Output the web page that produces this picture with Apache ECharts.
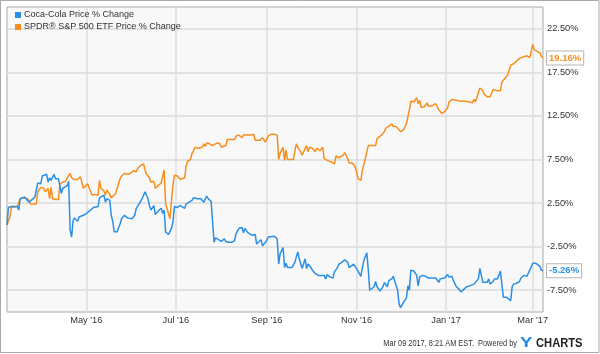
<!DOCTYPE html>
<html>
<head>
<meta charset="utf-8">
<script src="https://cdn.jsdelivr.net/npm/echarts@6/dist/echarts.min.js"></script>
<style>
html,body{margin:0;padding:0;background:#fff;}
#chart{width:600px;height:354px;}
</style>
</head>
<body>
<div id="chart"></div>
<script>
const seriesNames = ['Coca-Cola Price % Change', 'SPDR\u00ae S&P 500 ETF Price % Change'];
const seriesColors = ['#2b8fe6', '#f78f1e'];

const koDates = ['2016-03-08','2016-03-09','2016-03-11','2016-03-13','2016-03-15','2016-03-16','2016-03-17','2016-03-18','2016-03-20','2016-03-21','2016-03-23','2016-03-25','2016-03-27','2016-03-28','2016-03-29','2016-03-30','2016-03-31','2016-04-01','2016-04-02','2016-04-04','2016-04-05','2016-04-06','2016-04-07','2016-04-09','2016-04-10','2016-04-11','2016-04-12','2016-04-13','2016-04-14','2016-04-15','2016-04-16','2016-04-18','2016-04-19','2016-04-20','2016-04-21','2016-04-22','2016-04-23','2016-04-25','2016-04-26','2016-04-27','2016-04-29','2016-05-01','2016-05-02','2016-05-04','2016-05-06','2016-05-07','2016-05-09','2016-05-10','2016-05-11','2016-05-13','2016-05-14','2016-05-15','2016-05-17','2016-05-18','2016-05-19','2016-05-20','2016-05-22','2016-05-23','2016-05-24','2016-05-25','2016-05-27','2016-05-29','2016-05-30','2016-06-01','2016-06-03','2016-06-04','2016-06-06','2016-06-07','2016-06-08','2016-06-09','2016-06-10','2016-06-12','2016-06-13','2016-06-14','2016-06-15','2016-06-16','2016-06-17','2016-06-18','2016-06-19','2016-06-21','2016-06-22','2016-06-23','2016-06-24','2016-06-26','2016-06-27','2016-06-28','2016-06-29','2016-06-30','2016-07-01','2016-07-02','2016-07-04','2016-07-05','2016-07-07','2016-07-08','2016-07-10','2016-07-12','2016-07-13','2016-07-14','2016-07-16','2016-07-18','2016-07-19','2016-07-20','2016-07-22','2016-07-23','2016-07-25','2016-07-26','2016-07-27','2016-07-28','2016-07-30','2016-08-01','2016-08-03','2016-08-04','2016-08-06','2016-08-08','2016-08-10','2016-08-11','2016-08-13','2016-08-15','2016-08-16','2016-08-17','2016-08-19','2016-08-20','2016-08-22','2016-08-24','2016-08-25','2016-08-26','2016-08-28','2016-08-29','2016-08-31','2016-09-01','2016-09-02','2016-09-03','2016-09-06','2016-09-08','2016-09-09','2016-09-10','2016-09-12','2016-09-13','2016-09-14','2016-09-15','2016-09-16','2016-09-18','2016-09-20','2016-09-22','2016-09-23','2016-09-25','2016-09-27','2016-09-28','2016-09-29','2016-10-01','2016-10-02','2016-10-04','2016-10-06','2016-10-08','2016-10-10','2016-10-11','2016-10-12','2016-10-14','2016-10-16','2016-10-17','2016-10-18','2016-10-19','2016-10-20','2016-10-22','2016-10-24','2016-10-26','2016-10-27','2016-10-28','2016-10-30','2016-10-31','2016-11-01','2016-11-02','2016-11-04','2016-11-05','2016-11-06','2016-11-08','2016-11-09','2016-11-10','2016-11-11','2016-11-13','2016-11-14','2016-11-15','2016-11-17','2016-11-19','2016-11-20','2016-11-22','2016-11-23','2016-11-25','2016-11-26','2016-11-27','2016-11-29','2016-11-30','2016-12-01','2016-12-03','2016-12-05','2016-12-06','2016-12-07','2016-12-08','2016-12-10','2016-12-11','2016-12-12','2016-12-13','2016-12-14','2016-12-16','2016-12-18','2016-12-20','2016-12-23','2016-12-25','2016-12-26','2016-12-27','2016-12-28','2016-12-29','2016-12-31','2017-01-02','2017-01-03','2017-01-05','2017-01-06','2017-01-08','2017-01-10','2017-01-11','2017-01-13','2017-01-15','2017-01-17','2017-01-18','2017-01-20','2017-01-21','2017-01-23','2017-01-24','2017-01-26','2017-01-27','2017-01-29','2017-01-30','2017-01-31','2017-02-02','2017-02-03','2017-02-05','2017-02-07','2017-02-08','2017-02-09','2017-02-11','2017-02-12','2017-02-14','2017-02-15','2017-02-16','2017-02-18','2017-02-20','2017-02-21','2017-02-23','2017-02-25','2017-02-27','2017-02-28','2017-03-01','2017-03-02','2017-03-03','2017-03-06','2017-03-07','2017-03-08'];
const koValues = [0.0,2.0,2.1,2.1,2.1,1.7,3.0,3.2,3.2,3.0,2.6,2.9,3.2,3.4,4.8,5.0,4.7,5.6,5.8,5.8,4.9,5.4,5.1,5.8,5.3,5.1,5.3,4.5,3.6,4.2,4.3,4.5,5.0,-0.6,-1.4,0.5,0.8,0.4,0.9,0.7,1.1,1.3,1.2,1.7,2.0,2.2,2.1,3.1,2.9,3.4,2.6,3.0,2.8,1.1,0.4,-0.8,-0.8,-0.8,0.1,0.7,1.1,0.8,0.9,0.7,1.1,1.9,2.4,2.4,3.0,3.4,3.8,3.0,2.2,1.7,1.7,2.2,1.2,1.4,1.6,1.9,1.3,1.7,-0.8,-1.1,-1.2,-0.4,0.3,2.1,1.9,2.0,2.2,2.4,1.9,2.4,2.6,2.8,3.1,3.0,3.0,3.0,2.9,2.6,3.3,3.0,2.7,2.6,-2.0,-1.5,-1.7,-1.9,-1.6,-1.9,-2.0,-2.0,-1.8,-1.0,-0.4,-0.3,-0.9,-0.4,-0.9,-0.8,-1.2,-1.1,-2.2,-2.0,-1.7,-2.4,-2.0,-2.2,-1.4,-1.3,-1.3,-1.6,-4.5,-3.3,-2.6,-4.9,-4.4,-4.9,-4.9,-4.9,-4.3,-3.1,-3.9,-5.0,-3.9,-5.0,-4.5,-4.9,-5.2,-5.6,-5.8,-5.8,-5.8,-6.2,-5.7,-6.0,-6.1,-5.4,-5.2,-4.9,-4.5,-4.3,-4.0,-4.3,-4.9,-4.7,-4.5,-4.3,-5.0,-5.2,-5.9,-4.9,-4.1,-3.2,-5.1,-7.5,-7.3,-7.1,-6.5,-7.1,-7.6,-7.1,-6.6,-7.1,-6.4,-6.2,-5.9,-5.8,-7.5,-9.1,-9.5,-8.9,-8.4,-7.0,-7.5,-5.2,-5.3,-5.4,-5.8,-7.0,-6.0,-5.8,-5.9,-6.1,-6.1,-6.1,-6.1,-6.6,-6.2,-6.4,-6.1,-5.7,-6.0,-5.9,-6.4,-7.1,-7.4,-7.7,-7.4,-7.1,-7.0,-7.1,-6.8,-6.6,-6.2,-5.0,-6.6,-6.5,-6.6,-6.2,-6.8,-6.5,-6.2,-6.2,-5.3,-6.8,-8.3,-8.3,-8.4,-8.7,-7.1,-6.8,-6.7,-6.5,-6.1,-5.8,-5.9,-5.2,-4.8,-4.4,-4.2,-4.4,-4.8,-5.2,-5.26];

const spyDates = ['2016-03-08','2016-03-10','2016-03-11','2016-03-15','2016-03-16','2016-03-17','2016-03-19','2016-03-22','2016-03-24','2016-03-28','2016-03-29','2016-03-31','2016-04-02','2016-04-03','2016-04-05','2016-04-06','2016-04-07','2016-04-08','2016-04-10','2016-04-12','2016-04-13','2016-04-15','2016-04-17','2016-04-18','2016-04-20','2016-04-21','2016-04-23','2016-04-25','2016-04-26','2016-04-27','2016-04-29','2016-04-30','2016-05-02','2016-05-04','2016-05-05','2016-05-07','2016-05-09','2016-05-10','2016-05-11','2016-05-13','2016-05-14','2016-05-15','2016-05-17','2016-05-18','2016-05-19','2016-05-21','2016-05-22','2016-05-24','2016-05-25','2016-05-27','2016-05-30','2016-05-31','2016-06-02','2016-06-04','2016-06-05','2016-06-07','2016-06-09','2016-06-10','2016-06-11','2016-06-13','2016-06-14','2016-06-16','2016-06-17','2016-06-19','2016-06-21','2016-06-22','2016-06-23','2016-06-24','2016-06-27','2016-06-28','2016-06-29','2016-06-30','2016-07-02','2016-07-04','2016-07-05','2016-07-07','2016-07-08','2016-07-09','2016-07-11','2016-07-12','2016-07-13','2016-07-14','2016-07-16','2016-07-17','2016-07-19','2016-07-20','2016-07-21','2016-07-22','2016-07-24','2016-07-26','2016-07-29','2016-07-31','2016-08-01','2016-08-02','2016-08-04','2016-08-05','2016-08-07','2016-08-08','2016-08-10','2016-08-11','2016-08-13','2016-08-14','2016-08-15','2016-08-16','2016-08-19','2016-08-21','2016-08-23','2016-08-24','2016-08-25','2016-08-27','2016-08-29','2016-08-31','2016-09-01','2016-09-02','2016-09-04','2016-09-06','2016-09-08','2016-09-09','2016-09-10','2016-09-12','2016-09-13','2016-09-14','2016-09-15','2016-09-17','2016-09-19','2016-09-21','2016-09-22','2016-09-24','2016-09-25','2016-09-28','2016-09-29','2016-09-30','2016-10-02','2016-10-04','2016-10-05','2016-10-07','2016-10-08','2016-10-09','2016-10-10','2016-10-12','2016-10-15','2016-10-17','2016-10-18','2016-10-20','2016-10-23','2016-10-24','2016-10-26','2016-10-27','2016-10-29','2016-10-31','2016-11-01','2016-11-02','2016-11-04','2016-11-05','2016-11-07','2016-11-09','2016-11-10','2016-11-12','2016-11-14','2016-11-15','2016-11-16','2016-11-18','2016-11-20','2016-11-21','2016-11-23','2016-11-25','2016-11-26','2016-11-28','2016-11-29','2016-12-01','2016-12-03','2016-12-05','2016-12-07','2016-12-08','2016-12-10','2016-12-11','2016-12-12','2016-12-13','2016-12-14','2016-12-15','2016-12-17','2016-12-19','2016-12-20','2016-12-23','2016-12-25','2016-12-26','2016-12-27','2016-12-29','2016-12-30','2016-12-31','2017-01-02','2017-01-03','2017-01-05','2017-01-06','2017-01-08','2017-01-10','2017-01-11','2017-01-13','2017-01-14','2017-01-17','2017-01-18','2017-01-19','2017-01-20','2017-01-21','2017-01-22','2017-01-24','2017-01-26','2017-01-27','2017-01-29','2017-01-31','2017-02-02','2017-02-03','2017-02-05','2017-02-07','2017-02-08','2017-02-10','2017-02-12','2017-02-13','2017-02-14','2017-02-16','2017-02-18','2017-02-20','2017-02-21','2017-02-23','2017-02-25','2017-02-27','2017-02-28','2017-03-01','2017-03-02','2017-03-03','2017-03-06','2017-03-07','2017-03-08'];
const spyValues = [0.0,0.9,2.0,2.1,2.0,3.0,3.1,3.0,2.4,2.4,3.8,4.3,4.2,3.8,4.2,3.0,4.3,3.0,2.9,2.9,4.7,4.9,5.0,5.4,5.9,5.4,5.2,5.2,5.3,5.5,4.2,4.3,4.7,3.8,3.4,3.5,3.4,5.1,4.2,3.9,3.4,4.0,3.5,3.1,3.3,3.6,3.5,5.3,5.6,5.9,5.8,5.8,6.2,6.1,6.5,6.8,7.0,6.3,5.8,5.4,4.9,5.0,4.2,4.5,4.8,4.9,6.3,2.4,0.7,2.8,4.5,5.7,5.6,5.2,5.1,5.4,6.8,7.3,7.5,8.2,8.5,8.9,8.8,9.0,8.9,9.3,9.0,9.4,9.3,9.1,9.4,9.3,8.9,8.8,9.1,9.8,9.8,9.9,9.8,10.2,10.3,10.5,10.0,10.3,10.3,10.3,10.4,9.7,9.5,9.7,10.0,9.5,9.6,10.2,10.4,10.4,10.3,7.5,8.2,8.9,7.4,8.6,7.5,7.5,7.5,9.3,8.9,8.4,8.0,9.1,8.4,8.9,8.8,8.4,8.8,8.5,8.6,8.9,7.6,7.4,7.2,7.0,7.9,7.7,8.0,8.3,7.6,7.1,7.1,6.7,6.1,5.3,5.1,6.3,7.6,9.1,9.3,9.1,9.1,9.9,9.8,10.3,10.7,11.1,11.3,11.6,11.3,11.3,11.1,10.7,10.9,11.6,13.2,14.2,14.1,14.0,14.6,13.9,14.3,13.5,13.5,14.0,13.6,13.7,13.9,14.0,13.2,12.8,12.6,13.0,13.4,14.1,14.4,14.2,14.3,14.2,14.4,14.2,14.3,14.1,14.2,14.0,14.4,14.1,14.2,15.7,15.4,15.0,14.7,14.7,15.5,15.5,15.4,15.4,16.4,16.8,17.2,17.8,18.3,18.5,18.8,19.1,19.1,19.3,19.4,19.2,19.1,20.7,20.1,20.0,19.7,19.3,19.16];

const xMinDate = '2016-03-08';
const xMaxDate = '2017-03-08';
const xTickDates = ['2016-05-01','2016-07-01','2016-09-01','2016-11-01','2017-01-01','2017-03-01'];
const xTickLabels = ["May '16", "Jul '16", "Sep '16", "Nov '16", "Jan '17", "Mar '17"];
const yMin = -10, yMax = 25;
const yTickValues = [-7.5, -2.5, 2.5, 7.5, 12.5, 17.5, 22.5];
const footerText = 'Mar 09 2017, 8:21 AM EST.  Powered by';

function ts(s) { const p = s.split('-').map(Number); return Date.UTC(p[0], p[1] - 1, p[2]); }
const xTickTs = xTickDates.map(ts);

const chart = echarts.init(document.getElementById('chart'), null, {renderer: 'canvas'});
const font = '"Liberation Sans", Arial, sans-serif';

function mk(i, dates, vals) {
  return {
    name: seriesNames[i], type: 'line', showSymbol: false, symbol: 'none',
    data: dates.map((d, k) => [ts(d), vals[k]]),
    lineStyle: {color: seriesColors[i], width: 1.5},
    itemStyle: {color: seriesColors[i]},
    z: i === 0 ? 3 : 2,
    endLabel: {
      show: true, distance: 4,
      formatter: p => p.value[1].toFixed(2) + '%',
      color: seriesColors[i], fontWeight: 'bold', fontSize: 9.5, fontFamily: font,
      backgroundColor: '#fff', borderColor: '#b5b5b5', borderWidth: 1, padding: [2, 2, 1, 2]
    }
  };
}

chart.setOption({
  animation: false,
  backgroundColor: '#fff',
  grid: {left: 7, right: 57, top: 7, bottom: 42, show: true, backgroundColor: '#f8f8f8', borderColor: '#a9a9a9', borderWidth: 1},
  legend: {
    show: true, orient: 'vertical', left: 10, top: 4, itemGap: 0,
    icon: 'rect', itemWidth: 6, itemHeight: 6,
    textStyle: {fontSize: 9, color: '#333', fontFamily: font, lineHeight: 12, padding: [0, 0, 0, -2]},
    data: seriesNames
  },
  xAxis: {
    type: 'value', min: ts(xMinDate), max: ts(xMaxDate),
    axisLine: {show: false}, axisTick: {show: false, customValues: xTickTs},
    axisLabel: {customValues: xTickTs, color: '#333', fontSize: 9.3, fontFamily: font, margin: 4,
      formatter: v => { const k = xTickTs.indexOf(v); return k >= 0 ? xTickLabels[k] : ''; }},
    splitLine: {show: true, lineStyle: {color: '#dedede', width: 1.5}}
  },
  yAxis: {
    type: 'value', position: 'right', min: yMin, max: yMax,
    axisLine: {show: false}, axisTick: {show: false, customValues: yTickValues},
    axisLabel: {customValues: yTickValues, color: '#333', fontSize: 9.3, fontFamily: font, margin: 4,
      formatter: v => v.toFixed(2) + '%'},
    splitLine: {show: true, lineStyle: {color: '#e2e2e2', width: 2}}
  },
  series: [mk(0, koDates, koValues), mk(1, spyDates, spyValues)],
  graphic: [
    {type: 'rect', shape: {x: 0.5, y: 0.5, width: 598.5, height: 352}, style: {fill: 'none', stroke: '#a9a9a9', lineWidth: 1}, silent: true},
    {type: 'text', x: 517, y: 344, scaleX: 0.82, style: {text: footerText, fontSize: 9, fill: '#333', fontFamily: font, align: 'right', verticalAlign: 'middle'}},
    {type: 'text', x: 520, y: 343, scaleX: 1.2, style: {text: 'Y', fontSize: 15.5, fontWeight: 'bold', fill: '#1e8ae6', fontFamily: font, align: 'left', verticalAlign: 'middle'}},
    {type: 'text', x: 536, y: 343, scaleX: 0.86, style: {text: 'CHARTS', fontSize: 13, fontWeight: 'bold', fill: '#222', fontFamily: font, align: 'left', verticalAlign: 'middle'}}
  ]
});
</script>
</body>
</html>
